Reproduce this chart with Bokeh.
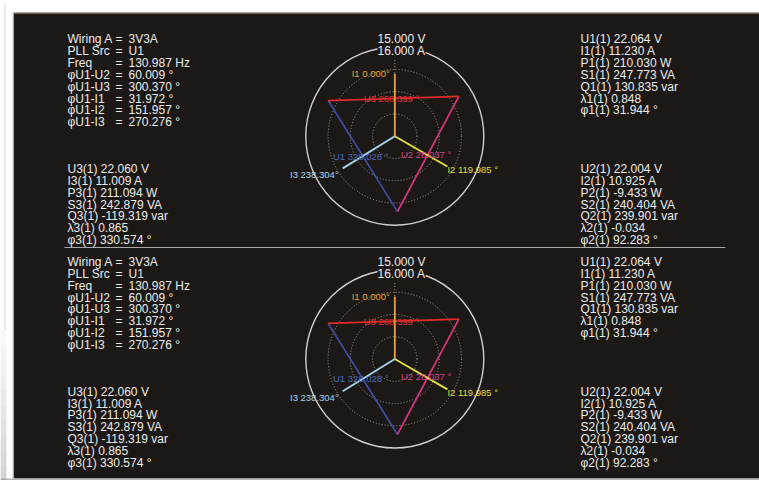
import math

from bokeh.plotting import figure
from bokeh.models import Range1d, ColumnDataSource, Label
from bokeh.core.properties import value
from bokeh.embed import file_html
from bokeh.resources import INLINE

# ---------------- measured values ----------------
wiring_names = ["Wiring A", "PLL Src", "Freq", "φU1-U2", "φU1-U3", "φU1-I1", "φU1-I2", "φU1-I3"]
wiring_values = ["3V3A", "U1", "130.987 Hz", "60.009 °", "300.370 °", "31.972 °", "151.957 °", "270.276 °"]

# per element: 1, 2, 3
u_mag = [22.064, 22.004, 22.060]        # V
u_ang = [328.028, 28.037, 268.399]      # deg, clockwise from top
i_mag = [11.230, 10.925, 11.009]        # A
i_ang = [0.000, 119.985, 238.304]       # deg
p_w = [210.030, -9.433, 211.094]
s_va = [247.773, 240.404, 242.879]
q_var = [130.835, 239.901, -119.319]
pf = [0.848, -0.034, 0.865]
phi = [31.944, 92.283, 330.574]

u_range = 15.000   # V at outer ring
i_range = 16.000   # A at outer ring

# ---------------- styling ----------------
BG = "#1c1815"
TXT = "#ececec"
FONT = value("Liberation Sans")
U_LINE = ["#3e4c9e", "#d4357e", "#e02a2a"]
U_LABEL = ["#4d68bc", "#d4408a", "#e23030"]
I_COLOR = ["#eaa238", "#e6df3e", "#a6d6f0"]

W, H = 759, 480
p = figure(width=W, height=H, output_backend="svg", toolbar_location=None,
           x_range=Range1d(0, W), y_range=Range1d(H, 0), min_border=0)
p.axis.visible = False
p.grid.visible = False
p.outline_line_color = None
p.background_fill_color = "white"
p.border_fill_color = "white"

# screen frame
p.quad(left=[13], right=[W], top=[12], bottom=[478], fill_color=BG, line_color=None)
p.segment(x0=[13], y0=[12.5], x1=[W], y1=[12.5], line_color="#bdbdbd", line_width=1)
p.segment(x0=[12.5], y0=[12], x1=[12.5], y1=[478], line_color="#c4c4c4", line_width=1)
p.quad(left=[0], right=[W], top=[478], bottom=[480], fill_color="#b4b4b4", line_color=None)
p.segment(x0=[4.5], y0=[4], x1=[4.5], y1=[330], line_color="#e2e2e2", line_width=1.5)
# soft shadow down the left edge
for k in range(10):
    y0 = 330 + k * 15
    p.quad(left=[0], right=[6], top=[y0], bottom=[y0 + 15], fill_color="#8c8c8c",
           fill_alpha=0.05 + 0.035 * k, line_color=None)

# separator between the two screens
p.segment(x0=[64], y0=[247], x1=[725], y1=[247], line_color="#a8a8a8", line_width=1.2)

R = 89.0
LINE_H = 11.88


def fmt(v, d=3):
    return f"{v:.{d}f}"


def readout(k):
    n = k + 1
    return [
        f"U{n}(1) {fmt(u_mag[k])} V",
        f"I{n}(1) {fmt(i_mag[k])} A",
        f"P{n}(1) {fmt(p_w[k])} W",
        f"S{n}(1) {fmt(s_va[k])} VA",
        f"Q{n}(1) {fmt(q_var[k])} var",
        f"λ{n}(1) {fmt(pf[k])}",
        f"φ{n}(1) {fmt(phi[k])} °",
    ]


def text_block(x, y0, lines, size="12px", color=TXT):
    ys = [y0 + i * LINE_H for i in range(len(lines))]
    src = ColumnDataSource(dict(x=[x] * len(lines), y=ys, t=lines))
    p.text("x", "y", text="t", source=src, text_font=FONT, text_font_size=value(size),
           text_color=color, text_baseline="alphabetic", text_align="left")


def pol(mag, ang_deg, scale):
    r = mag / scale * R
    a = math.radians(ang_deg)
    return r * math.sin(a), -r * math.cos(a)


def panel(dy):
    cx, cy = 394.3, 135.7 + dy

    # left: wiring / phase summary
    ys = [38.6 + dy + i * LINE_H for i in range(len(wiring_names))]
    p.text(x=[67] * len(ys), y=ys, text=wiring_names, text_font=FONT, text_font_size=value("12px"),
           text_color=TXT, text_baseline="alphabetic")
    p.text(x=[115] * len(ys), y=ys, text=["="] * len(ys), text_font=FONT, text_font_size=value("12px"),
           text_color=TXT, text_baseline="alphabetic")
    p.text(x=[128] * len(ys), y=ys, text=wiring_values, text_font=FONT, text_font_size=value("12px"),
           text_color=TXT, text_baseline="alphabetic")

    # element readouts
    text_block(580, 38.6 + dy, readout(0))
    text_block(580, 168.4 + dy, readout(1))
    text_block(67, 168.4 + dy, readout(2))

    # rings
    for f in (0.25, 0.5, 0.75):
        p.circle(x=[cx], y=[cy], radius=R * f, fill_color=None, line_color="#a0a0a0",
                 line_width=1, line_dash="1 2")
    p.circle(x=[cx], y=[cy], radius=R, fill_color=None, line_color="#cfcfcf", line_width=1.4)
    p.segment(x0=[cx], y0=[cy], x1=[cx], y1=[cy - R], line_color="#a0a0a0", line_width=1, line_dash="1 2")

    # range labels on top of the outer ring
    p.add_layout(Label(x=377, y=38.6 + dy, text=f"{u_range:.3f} V", text_font="Liberation Sans",
                       text_font_size="12px", text_color=TXT, text_baseline="alphabetic"))
    p.add_layout(Label(x=377, y=50.5 + dy, text=f"{i_range:.3f} A", text_font="Liberation Sans",
                       text_font_size="12px", text_color=TXT, text_baseline="alphabetic",
                       background_fill_color=BG))

    # voltage triangle (line-to-line vectors, centroid at origin)
    v = [pol(u_mag[k], u_ang[k], u_range) for k in range(3)]
    c = (-(v[0][0] + v[1][0]) / 3, -(v[0][1] + v[1][1]) / 3)
    a = (c[0] + v[0][0], c[1] + v[0][1])
    b = (c[0] + v[1][0], c[1] + v[1][1])
    edges = [(c, a), (c, b), (b, a)]   # U1, U2, U3
    for k, (s, e) in enumerate(edges):
        p.segment(x0=[cx + s[0]], y0=[cy + s[1]], x1=[cx + e[0]], y1=[cy + e[1]],
                  line_color=U_LINE[k], line_width=1.8)

    # current phasors
    tips = []
    for k in range(3):
        ex, ey = pol(i_mag[k], i_ang[k], i_range)
        tips.append((cx + ex, cy + ey))
        p.segment(x0=[cx], y0=[cy], x1=[cx + ex], y1=[cy + ey], line_color=I_COLOR[k], line_width=1.8)

    # voltage labels at edge midpoints
    u_txt = [f"U1 {fmt(u_ang[0])} °", f"U2 {fmt(u_ang[1])} °", f"U3 {fmt(u_ang[2])} °"]
    for k, (s, e) in enumerate(edges):
        mx, my = cx + (s[0] + e[0]) / 2, cy + (s[1] + e[1]) / 2
        p.text(x=[mx - 2], y=[my], text=[u_txt[k]], text_font=FONT, text_font_size=value("9.5px"),
               text_color=U_LABEL[k], text_align="center", text_baseline="middle")

    # current labels at tips
    i_txt = [f"I1 {fmt(i_ang[0])}°", f"I2 {fmt(i_ang[1])} °", f"I3 {fmt(i_ang[2])}°"]
    offs = [(-5, 0, "right"), (0, 3, "left"), (-4, 6, "right")]
    for k in range(3):
        ox, oy, al = offs[k]
        p.text(x=[tips[k][0] + ox], y=[tips[k][1] + oy], text=[i_txt[k]], text_font=FONT,
               text_font_size=value("9.5px"), text_color=I_COLOR[k], text_align=al,
               text_baseline="middle")


panel(0)
panel(222.8)

open("out.html", "w").write(file_html(p, INLINE))
